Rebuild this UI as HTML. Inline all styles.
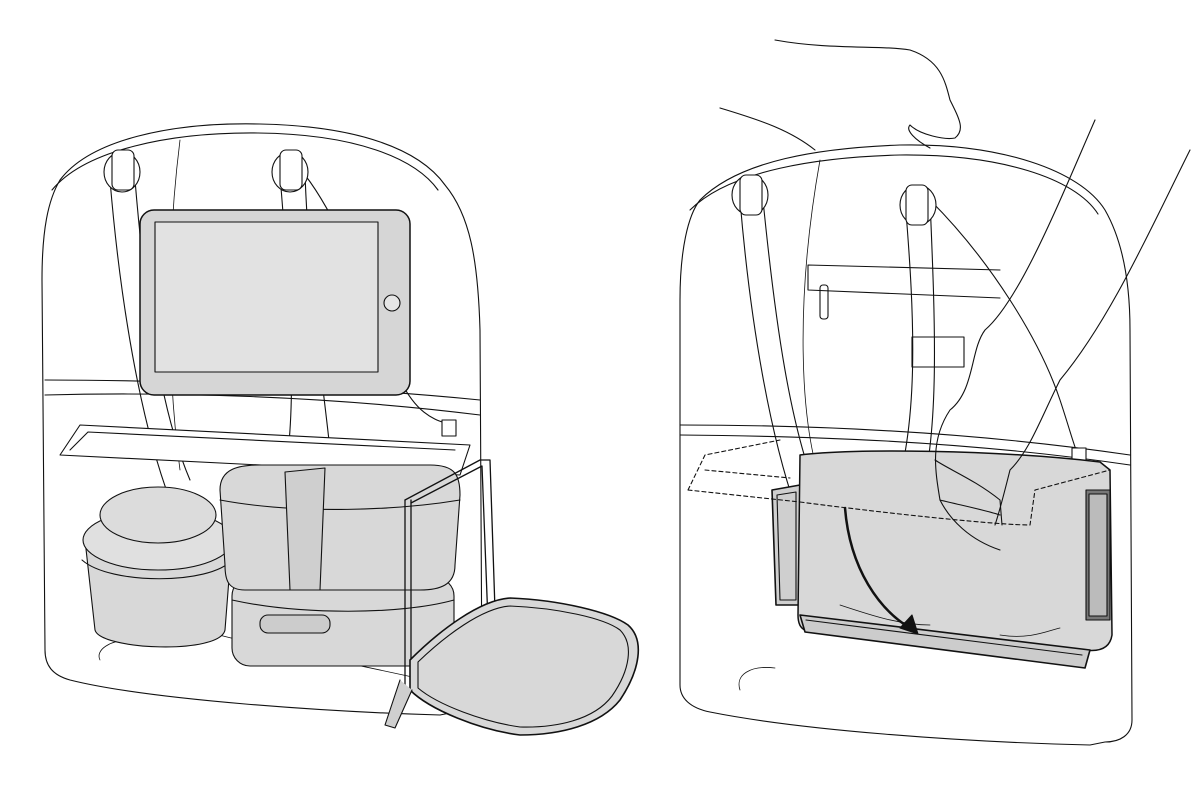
<!DOCTYPE html>
<html><head><meta charset="utf-8"><style>html,body{margin:0;padding:0;background:#fff}svg{display:block}</style></head>
<body>
<svg width="1200" height="800" viewBox="0 0 1200 800" xmlns="http://www.w3.org/2000/svg" fill="none" stroke="#111" stroke-width="1.1" stroke-linejoin="round" stroke-linecap="round">
<!-- LEFT BACKPACK -->
<path d="M60,180 C90,140 170,122 260,124 C360,126 420,150 445,185 C470,215 478,260 480,330 L482,690 C482,705 470,712 455,712 L440,715 C330,712 150,700 70,680 C52,675 45,665 45,650 L42,280 C42,230 48,200 60,180 Z"/>
<path d="M52,190 C85,150 170,132 258,133 C355,134 415,158 438,190"/>
<path d="M45,395 C160,392 320,395 480,415"/>
<path d="M45,380 C150,380 330,385 480,400"/>
<path d="M120,600 C200,640 300,650 470,690" stroke-width="0.8"/>
<path d="M100,660 C95,650 110,640 130,640" stroke-width="0.8"/>
<path d="M180,140 C165,260 168,380 180,470" stroke-width="0.8"/>
<!-- straps -->
<path d="M110,180 C120,300 140,420 170,500 M135,180 C145,300 160,410 190,480"/>
<path d="M280,175 C290,300 300,420 280,500 M305,175 C310,300 325,400 330,450"/>
<path d="M305,175 C340,220 380,320 400,380 C420,420 440,420 450,425"/>
<ellipse cx="122" cy="172" rx="18" ry="20" fill="#fff"/>
<ellipse cx="290" cy="172" rx="18" ry="20" fill="#fff"/>
<rect x="112" y="150" width="22" height="40" rx="6" fill="#fff"/>
<rect x="280" y="150" width="22" height="40" rx="6" fill="#fff"/>
<rect x="442" y="420" width="14" height="16" fill="#fff"/>
<!-- tablet -->
<rect x="140" y="210" width="270" height="185" rx="14" fill="#d6d6d6" stroke-width="1.5"/>
<rect x="155" y="222" width="223" height="150" fill="#e2e2e2"/>
<circle cx="392" cy="303" r="8" fill="#e6e6e6"/>
<!-- shelf -->
<path d="M60,455 L80,425 L470,445 L460,475 Z" fill="#fff"/>
<path d="M70,450 L88,432 L455,450"/>
<!-- round container -->
<path d="M85,540 L95,630 C100,650 220,655 225,630 L232,540 Z" fill="#d8d8d8"/>
<ellipse cx="158" cy="540" rx="75" ry="30" fill="#e0e0e0"/>
<ellipse cx="158" cy="515" rx="58" ry="28" fill="#dcdcdc"/>
<path d="M82,560 C110,585 210,585 232,560"/>
<!-- lower box -->
<rect x="232" y="578" width="222" height="88" rx="18" fill="#d8d8d8"/>
<path d="M232,600 C300,615 400,615 454,600"/>
<rect x="260" y="615" width="70" height="18" rx="8" fill="#ccc"/>
<!-- upper box -->
<path d="M220,490 C220,468 240,465 260,465 L430,465 C455,465 460,475 460,495 L455,565 C455,585 440,590 420,590 L245,590 C228,590 225,580 225,565 Z" fill="#d8d8d8"/>
<path d="M220,500 C300,515 400,510 460,500"/>
<path d="M285,472 L325,468 L320,590 L290,590 Z" fill="#cfcfcf"/>
<!-- wire frame -->
<path d="M405,500 L405,690 M411,500 L411,688" stroke-width="1.3"/>
<path d="M405,500 L480,460 L490,460 L498,700 M411,503 L482,466 L491,700" stroke-width="1.3"/>
<!-- pouch -->
<path d="M410,660 C440,630 480,600 510,598 C560,600 610,612 628,625 C645,640 640,670 620,700 C600,725 560,735 520,735 C480,730 430,710 410,690 Z" fill="#d8d8d8" stroke-width="1.6"/>
<path d="M418,662 C445,636 482,608 510,606 C558,608 604,618 620,630 C634,644 630,670 612,696 C594,720 556,728 520,727 C484,722 438,705 418,688 Z"/>
<path d="M400,680 L385,725 L395,728 L412,690" fill="#cfcfcf"/>
<!-- RIGHT BACKPACK -->
<path d="M700,200 C740,160 820,148 900,145 C1000,143 1080,170 1105,210 C1125,245 1130,290 1130,330 L1132,720 C1132,735 1120,742 1105,742 L1090,745 C960,742 800,730 710,712 C690,708 680,698 680,685 L680,300 C680,250 688,215 700,200 Z"/>
<path d="M690,210 C730,170 820,157 900,155 C1000,154 1075,178 1098,214"/>
<path d="M680,425 C800,425 960,430 1130,455"/>
<path d="M680,435 C800,436 960,440 1130,465"/>
<path d="M820,160 C795,300 800,420 820,480" stroke-width="0.8"/>
<path d="M740,690 C735,675 750,665 775,668" stroke-width="0.8"/>
<!-- zip pocket -->
<path d="M808,265 L1000,270 M808,290 L1000,298 M808,265 L808,290"/>
<rect x="820" y="285" width="8" height="34" rx="3"/>
<rect x="912" y="337" width="52" height="30"/>
<!-- straps right -->
<path d="M740,200 C750,320 770,440 800,520 M763,200 C775,320 790,430 820,500"/>
<path d="M905,200 C915,320 920,430 890,510 M930,200 C935,320 940,430 920,500"/>
<path d="M930,200 C990,260 1040,340 1060,400 C1070,430 1075,450 1080,460"/>
<ellipse cx="750" cy="195" rx="18" ry="20" fill="#fff"/>
<ellipse cx="918" cy="205" rx="18" ry="20" fill="#fff"/>
<rect x="740" y="175" width="22" height="40" rx="6" fill="#fff"/>
<rect x="906" y="185" width="22" height="40" rx="6" fill="#fff"/>
<rect x="1072" y="448" width="14" height="16" fill="#fff"/>
<!-- left side panel -->
<path d="M772,490 L800,485 L800,605 L776,605 Z" fill="#cfcfcf" stroke-width="1.6"/>
<path d="M777,495 L796,492 L796,600 L780,600 Z"/>
<!-- gray pouch -->
<path d="M800,455 C850,448 1000,450 1100,462 L1110,470 L1112,635 C1110,648 1100,652 1085,650 L805,630 C800,628 798,622 798,615 Z" fill="#d8d8d8" stroke-width="1.5"/>
<rect x="1086" y="490" width="24" height="130" fill="#777"/>
<rect x="1089" y="494" width="18" height="122" fill="#bbb"/>
<!-- bottom flap -->
<path d="M800,615 L805,632 L1085,668 L1090,650 Z" fill="#ccc" stroke-width="1.6"/>
<path d="M806,620 L1082,655"/>
<!-- dashed tray -->
<path d="M688,490 L705,455 L780,440 M688,490 L800,502 M705,470 L790,478" stroke-dasharray="4 3"/>
<path d="M800,502 C900,515 1000,525 1030,525 L1035,490 L1110,470" stroke-dasharray="4 3"/>
<!-- arrow -->
<path d="M845,508 C850,570 880,610 910,628" stroke-width="2.5"/>
<path d="M918,634 L900,628 L912,615 Z" fill="#111"/>
<path d="M840,605 C870,615 900,625 930,625 M1000,635 C1030,640 1050,630 1060,628" stroke-width="0.8"/>
<!-- hands/arms -->
<path d="M775,40 C830,50 880,45 910,50 C940,60 945,80 950,100 C960,120 965,130 955,138 C945,140 920,135 910,125 C905,130 915,140 930,148"/>
<path d="M720,108 C760,120 790,130 815,150"/>
<path d="M1095,120 C1060,200 1020,300 985,330 C970,350 975,390 950,410 C930,440 935,470 940,500 C950,520 970,540 1000,550"/>
<path d="M1190,150 C1150,230 1110,320 1060,380 C1040,420 1030,450 1010,470 C1005,490 1000,510 995,525"/>
<path d="M935,460 C950,470 975,480 1000,500 L1002,525 M940,500 C960,505 985,510 1000,515"/>
</svg>
</body></html>
